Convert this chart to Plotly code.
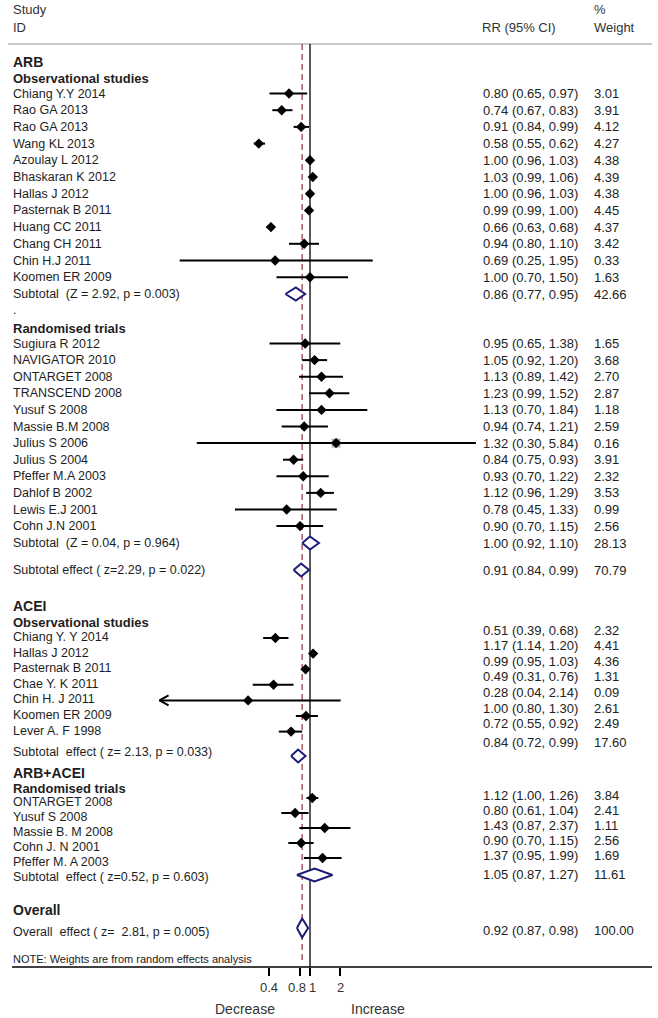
import numpy as np
import plotly.graph_objects as go

W, H = 658, 1018

# ---------------- data ----------------
arb_obs_study = ["Chiang Y.Y 2014", "Rao GA 2013", "Rao GA 2013", "Wang KL 2013", "Azoulay L 2012",
                 "Bhaskaran K 2012", "Hallas J 2012", "Pasternak B 2011", "Huang CC 2011",
                 "Chang CH 2011", "Chin H.J 2011", "Koomen ER 2009"]
arb_obs_rr = [0.80, 0.74, 0.91, 0.58, 1.00, 1.03, 1.00, 0.99, 0.66, 0.94, 0.69, 1.00]
arb_obs_lo = [0.65, 0.67, 0.84, 0.55, 0.96, 0.99, 0.96, 0.99, 0.63, 0.80, 0.25, 0.70]
arb_obs_hi = [0.97, 0.83, 0.99, 0.62, 1.03, 1.06, 1.03, 1.00, 0.68, 1.10, 1.95, 1.50]
arb_obs_wt = [3.01, 3.91, 4.12, 4.27, 4.38, 4.39, 4.38, 4.45, 4.37, 3.42, 0.33, 1.63]

arb_rct_study = ["Sugiura R 2012", "NAVIGATOR 2010", "ONTARGET 2008", "TRANSCEND 2008", "Yusuf S 2008",
                 "Massie B.M 2008", "Julius S 2006", "Julius S 2004", "Pfeffer M.A 2003",
                 "Dahlof B 2002", "Lewis E.J 2001", "Cohn J.N 2001"]
arb_rct_rr = [0.95, 1.05, 1.13, 1.23, 1.13, 0.94, 1.32, 0.84, 0.93, 1.12, 0.78, 0.90]
arb_rct_lo = [0.65, 0.92, 0.89, 0.99, 0.70, 0.74, 0.30, 0.75, 0.70, 0.96, 0.45, 0.70]
arb_rct_hi = [1.38, 1.20, 1.42, 1.52, 1.84, 1.21, 5.84, 0.93, 1.22, 1.29, 1.33, 1.15]
arb_rct_wt = [1.65, 3.68, 2.70, 2.87, 1.18, 2.59, 0.16, 3.91, 2.32, 3.53, 0.99, 2.56]
arb_rct_box = [False, False, False, False, False, False, True, False, False, False, False, False]

acei_study = ["Chiang Y. Y 2014", "Hallas J 2012", "Pasternak B 2011", "Chae Y. K 2011",
              "Chin H. J 2011", "Koomen ER 2009", "Lever A. F 1998"]
acei_rr = [0.51, 1.17, 0.99, 0.49, 0.28, 1.00, 0.72]
acei_lo = [0.39, 1.14, 0.95, 0.31, 0.04, 0.80, 0.55]
acei_hi = [0.68, 1.20, 1.03, 0.76, 2.14, 1.30, 0.92]
acei_wt = [2.32, 4.41, 4.36, 1.31, 0.09, 2.61, 2.49]
acei_arrow = [False, False, False, False, True, False, False]

combo_study = ["ONTARGET 2008", "Yusuf S 2008", "Massie B. M 2008", "Cohn J. N 2001", "Pfeffer M. A 2003"]
combo_rr = [1.12, 0.80, 1.43, 0.90, 1.37]
combo_lo = [1.00, 0.61, 0.87, 0.70, 0.95]
combo_hi = [1.26, 1.04, 2.37, 1.15, 1.99]
combo_wt = [3.84, 2.41, 1.11, 2.56, 1.69]

pooled_label = ["Subtotal\u00a0 (Z = 2.92, p = 0.003)",
                "Subtotal\u00a0 (Z = 0.04, p = 0.964)",
                "Subtotal effect ( z=2.29, p = 0.022)",
                "Subtotal\u00a0 effect ( z= 2.13, p = 0.033)",
                "Subtotal\u00a0 effect ( z=0.52, p = 0.603)",
                "Overall\u00a0 effect ( z=\u00a0 2.81, p = 0.005)"]
pooled_rr = [0.86, 1.00, 0.91, 0.84, 1.05, 0.92]
pooled_lo = [0.77, 0.92, 0.84, 0.72, 0.87, 0.87]
pooled_hi = [0.95, 1.10, 0.99, 0.99, 1.27, 0.98]
pooled_wt = [42.66, 28.13, 70.79, 17.60, 11.61, 100.00]

tick_vals = [0.4, 0.8, 1, 2]
tick_text = ["0.4", "0.8", "1", "2"]

# ---------------- styling / layout helpers ----------------
FONT = "Liberation Sans, Arial, sans-serif"
TXT = "#1e1e1e"
NAVY = "#1c1c78"
REDDASH = "#a85a60"
X_LABEL, X_RR, X_WT = 11, 481, 592
FS_LABEL, FS_RIGHT = 12.5, 13
TICK_NUDGE = [0, -3, 3, 0]   # px nudges so the crowded 0.8 / 1 labels do not collide


def log_range(px_per_ln, px_at_one, x0=0, x1=W):
    s = px_per_ln * np.log(10)
    return [(x0 - px_at_one) / s, (x1 - px_at_one) / s]


fig = go.Figure()
annotations = []


def text(x_px, y_px, s, size=FS_LABEL, bold=False, color=TXT, anchor="left"):
    annotations.append(dict(
        x=x_px / W, xref="paper", y=y_px, yref="y", text=f"<b>{s}</b>" if bold else s,
        showarrow=False, xanchor=anchor, yanchor="middle",
        font=dict(family=FONT, size=size, color=color)))


seg = {"x": ([], []), "x2": ([], []), "x3": ([], [])}
pts = {"x": ([], []), "x2": ([], []), "x3": ([], [])}
boxes = ([], [])
arrows = []


def rr_str(r, lo, hi):
    return f"{r:.2f} ({lo:.2f}, {hi:.2f})"


def study_rows(names, rr, lo, hi, wt, ys, axis, moff=0.0, toff=0.0, box=None, arrow=None):
    for i, name in enumerate(names):
        y = ys[i]
        text(X_LABEL, y, name)
        text(X_RR, y + toff, rr_str(rr[i], lo[i], hi[i]), size=FS_RIGHT, color="#222")
        text(X_WT, y + toff, f"{wt[i]:.2f}", size=FS_RIGHT, color="#222")
        sx, sy = seg[axis]
        sx += [lo[i], hi[i], None]
        sy += [y + moff, y + moff, None]
        px, py = pts[axis]
        px.append(rr[i]); py.append(y + moff)
        if box is not None and box[i]:
            boxes[0].append(rr[i]); boxes[1].append(y + moff)
        if arrow is not None and arrow[i]:
            arrows.append((axis, lo[i], y + moff))


def pooled_row(k, y, axis="x", moff=0.0, toff=0.0, half=6.5):
    text(X_LABEL, y, pooled_label[k])
    text(X_RR, y + toff, rr_str(pooled_rr[k], pooled_lo[k], pooled_hi[k]), size=FS_RIGHT, color="#222")
    text(X_WT, y + toff, f"{pooled_wt[k]:.2f}", size=FS_RIGHT, color="#222")
    yc = y + moff
    fig.add_trace(go.Scatter(
        x=[pooled_lo[k], pooled_rr[k], pooled_hi[k], pooled_rr[k], pooled_lo[k]],
        y=[yc, yc - half, yc, yc + half, yc], xaxis=axis, yaxis="y",
        mode="lines", line=dict(color=NAVY, width=2), fill="toself",
        fillcolor="white", hoverinfo="skip", showlegend=False))


# ---------------- header ----------------
text(X_LABEL, 9, "Study", size=FS_RIGHT, color="#333")
text(X_LABEL, 27, "ID", size=FS_RIGHT, color="#333")
text(X_RR - 1, 27, "RR (95% CI)", size=FS_RIGHT, color="#333")
text(X_WT, 9, "%", size=FS_RIGHT, color="#333")
text(X_WT, 27, "Weight", size=FS_RIGHT, color="#333")

# reference lines first (drawn below marks)
y_top, y_axis = 44, 967
fig.add_trace(go.Scatter(x=[1, 1], y=[y_top, y_axis], xaxis="x", yaxis="y", mode="lines",
                         line=dict(color="black", width=1.3), hoverinfo="skip", showlegend=False))
fig.add_trace(go.Scatter(x=[pooled_rr[-1], pooled_rr[-1]], y=[y_top, y_axis - 4], xaxis="x", yaxis="y",
                         mode="lines", line=dict(color=REDDASH, width=1.5, dash="6px,4px"),
                         hoverinfo="skip", showlegend=False))

# ---------------- ARB ----------------
text(X_LABEL, 62, "ARB", size=14, bold=True)
text(X_LABEL, 78, "Observational studies", size=13, bold=True)
study_rows(arb_obs_study, arb_obs_rr, arb_obs_lo, arb_obs_hi, arb_obs_wt,
           [93.5 + 16.7 * i for i in range(len(arb_obs_study))], "x")
pooled_row(0, 294)
text(X_LABEL, 310, ".")
text(X_LABEL, 328, "Randomised trials", size=13, bold=True)
study_rows(arb_rct_study, arb_rct_rr, arb_rct_lo, arb_rct_hi, arb_rct_wt,
           [343.5 + 16.6 * i for i in range(len(arb_rct_study))], "x", box=arb_rct_box)
pooled_row(1, 543)
pooled_row(2, 570)

# ---------------- ACEI ----------------
text(X_LABEL, 606, "ACEI", size=14, bold=True)
text(X_LABEL, 622, "Observational studies", size=13, bold=True)
study_rows(acei_study, acei_rr, acei_lo, acei_hi, acei_wt,
           [637 + 15.6 * i for i in range(len(acei_study))], "x2", moff=1, toff=-7, arrow=acei_arrow)
pooled_row(3, 752, axis="x2", moff=4, toff=-10)

# ---------------- ARB+ACEI ----------------
text(X_LABEL, 773, "ARB+ACEI", size=14, bold=True)
text(X_LABEL, 788, "Randomised trials", size=13, bold=True)
study_rows(combo_study, combo_rr, combo_lo, combo_hi, combo_wt,
           [802 + 15 * i for i in range(len(combo_study))], "x3", moff=-4, toff=-6.5)
pooled_row(4, 877, axis="x", moff=-2, toff=-3)

# ---------------- Overall ----------------
text(X_LABEL, 910, "Overall", size=14, bold=True)
pooled_row(5, 932, axis="x", moff=-4, toff=-2, half=9.5)

text(X_LABEL, 959, "NOTE: Weights are from random effects analysis", size=11, color="#222")
text(245, 1009, "Decrease", size=14, color="#333", anchor="center")
text(378, 1009, "Increase", size=14, color="#333", anchor="center")

# tick labels of the RR axis (placed on the tick axis x4, log10 coordinates for annotations)
for v, t, nudge in zip(tick_vals, tick_text, TICK_NUDGE):
    annotations.append(dict(
        x=np.log10(v), xref="x4", y=987, yref="y", text=t, showarrow=False,
        xanchor="center", yanchor="middle", xshift=nudge, borderpad=0,
        font=dict(family=FONT, size=13, color="#333")))

# CI segments and points
for ax in ["x", "x2", "x3"]:
    sx, sy = seg[ax]
    fig.add_trace(go.Scatter(x=sx, y=sy, xaxis=ax, yaxis="y", mode="lines",
                             line=dict(color="black", width=2), hoverinfo="skip", showlegend=False))
fig.add_trace(go.Scatter(x=boxes[0], y=boxes[1], xaxis="x", yaxis="y", mode="markers",
                         marker=dict(symbol="square", size=9, color="#b4b4b4"),
                         hoverinfo="skip", showlegend=False))
for ax in ["x", "x2", "x3"]:
    px, py = pts[ax]
    fig.add_trace(go.Scatter(x=px, y=py, xaxis=ax, yaxis="y", mode="markers",
                             marker=dict(symbol="diamond", size=8, color="black"),
                             hoverinfo="skip", showlegend=False))

# arrow heads for truncated intervals (open chevron at lower limit)
k_ax = {"x": 94.0, "x2": 45.5, "x3": 51.0}
for ax, lo, y in arrows:
    f = np.exp(9 / k_ax[ax])
    fig.add_trace(go.Scatter(x=[lo * f, lo, lo * f], y=[y - 5, y, y + 5], xaxis=ax, yaxis="y",
                             mode="lines", line=dict(color="black", width=2),
                             hoverinfo="skip", showlegend=False))

# empty trace so the tick axis (x4) is rendered
fig.add_trace(go.Scatter(x=tick_vals, y=[None] * len(tick_vals), xaxis="x4", yaxis="y",
                         mode="markers", hoverinfo="skip", showlegend=False))

# horizontal rules
shapes = [
    dict(type="line", xref="paper", yref="y", x0=8 / W, x1=652 / W, y0=y_top, y1=y_top,
         line=dict(color="#c8c8c8", width=2), layer="below"),
    dict(type="line", xref="paper", yref="y", x0=12 / W, x1=652 / W, y0=y_axis, y1=y_axis,
         line=dict(color="black", width=1.5)),
]

fig.update_layout(
    width=W, height=H, margin=dict(l=0, r=0, t=0, b=0),
    paper_bgcolor="white", plot_bgcolor="white", showlegend=False,
    xaxis=dict(type="log", range=log_range(94, 310), domain=[0, 1], visible=False),
    xaxis2=dict(type="log", range=log_range(45.5, 306), overlaying="x", visible=False),
    xaxis3=dict(type="log", range=log_range(51, 306.5), overlaying="x", visible=False),
    xaxis4=dict(type="log", range=log_range(44.1, 309.5), overlaying="x", anchor="free",
                position=(H - y_axis) / H, showline=False, showgrid=False, zeroline=False,
                ticks="outside", ticklen=8, tickwidth=1.5, tickcolor="black",
                tickvals=tick_vals, showticklabels=False),
    yaxis=dict(range=[H, 0], domain=[0, 1], visible=False),
    annotations=annotations, shapes=shapes,
)

fig.write_html("out.html", config={"displayModeBar": False},
               post_script="document.body.style.margin='0';")
